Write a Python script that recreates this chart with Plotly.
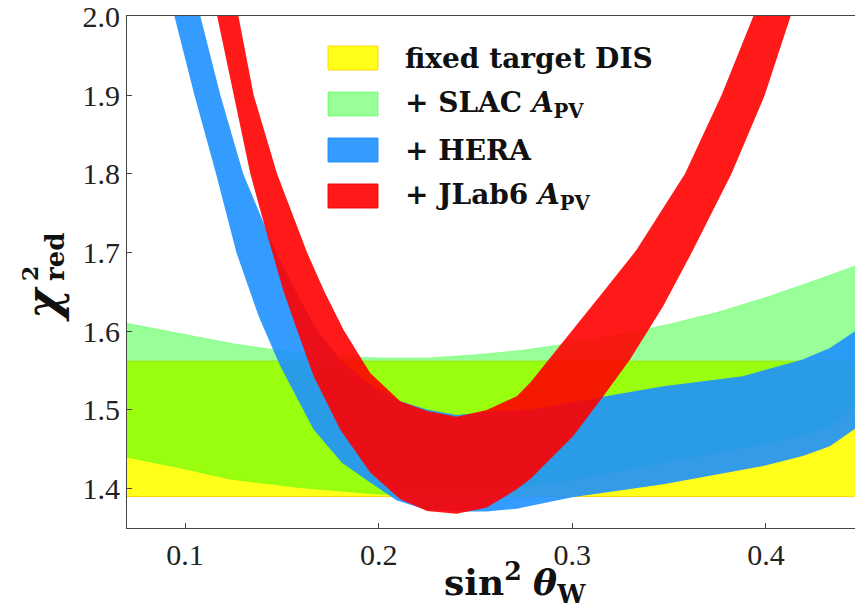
import plotly.graph_objects as go

# ---------------- data ----------------
# fixed target DIS (flat band)
yellow_x = [0.07, 0.446]
yellow_lo = [1.390, 1.390]
yellow_hi = [1.562, 1.562]

# + SLAC A_PV
green_lo_x = [0.07, 0.10, 0.1235, 0.16, 0.20, 0.24, 0.278, 0.30, 0.347, 0.3986, 0.42, 0.433, 0.446]
green_lo_y = [1.440, 1.425, 1.412, 1.401, 1.393, 1.392, 1.4034, 1.411, 1.433, 1.4563, 1.468, 1.4795, 1.505]
green_hi_x = [0.07, 0.10, 0.125, 0.15, 0.175, 0.20, 0.225, 0.25, 0.275, 0.30, 0.325, 0.35, 0.375, 0.40, 0.425, 0.446]
green_hi_y = [1.610, 1.596, 1.584, 1.575, 1.569, 1.566, 1.566, 1.570, 1.576, 1.585, 1.596, 1.609, 1.624, 1.643, 1.664, 1.683]

# + HERA
blue_lo_x = [0.090, 0.0945, 0.1048, 0.1160, 0.1265, 0.138, 0.1492, 0.1664, 0.181, 0.1956, 0.2094, 0.2249,
             0.2403, 0.2558, 0.2713, 0.278, 0.300, 0.347, 0.3986, 0.419, 0.433, 0.446]
blue_lo_y = [2.044, 2.000, 1.900, 1.800, 1.700, 1.619, 1.5555, 1.4753, 1.433, 1.4077, 1.3850, 1.3730,
             1.3710, 1.3710, 1.3745, 1.378, 1.389, 1.4056, 1.4288, 1.4415, 1.454, 1.476]
blue_hi_x = [0.100, 0.1079, 0.1182, 0.130, 0.147, 0.1595, 0.168, 0.1801, 0.1956, 0.2111, 0.2249, 0.2403,
             0.2558, 0.278, 0.300, 0.316, 0.347, 0.388, 0.419, 0.433, 0.446]
blue_hi_y = [2.077, 2.000, 1.900, 1.800, 1.700, 1.640, 1.602, 1.564, 1.5323, 1.511, 1.5005, 1.4935,
             1.4975, 1.5006, 1.510, 1.5175, 1.530, 1.5429, 1.564, 1.5788, 1.600]

# + JLab6 A_PV
red_lo_x = [0.110, 0.1165, 0.125, 0.1337, 0.1397, 0.1452, 0.1509, 0.1578, 0.1664, 0.1801, 0.1956, 0.2111,
            0.2249, 0.2403, 0.2558, 0.2713, 0.2782, 0.285, 0.3005, 0.316, 0.3298, 0.3469, 0.3624, 0.3822,
            0.3994, 0.4127, 0.420]
red_lo_y = [2.077, 2.000, 1.900, 1.800, 1.746, 1.700, 1.650, 1.602, 1.5429, 1.4753, 1.4204, 1.3866,
            1.3717, 1.3680, 1.3760, 1.3992, 1.4119, 1.4288, 1.4668, 1.5175, 1.564, 1.6316, 1.7034, 1.800,
            1.900, 2.000, 2.055]
red_hi_x = [0.120, 0.1276, 0.1354, 0.1475, 0.163, 0.172, 0.1818, 0.1956, 0.2111, 0.2249, 0.2403, 0.2558,
            0.2713, 0.2782, 0.3005, 0.316, 0.3332, 0.3582, 0.3771, 0.3934, 0.400]
red_hi_y = [2.097, 2.000, 1.900, 1.800, 1.700, 1.650, 1.602, 1.547, 1.511, 1.4985, 1.4914, 1.500,
            1.5175, 1.5345, 1.602, 1.650, 1.7034, 1.800, 1.900, 2.000, 2.040]

labels = ["fixed target DIS",
          "+ SLAC <i>A</i><sub>PV</sub>",
          "+ HERA",
          "+ JLab6 <i>A</i><sub>PV</sub>"]
x_ticks = [0.1, 0.2, 0.3, 0.4]
x_ticklabels = ["0.1", "0.2", "0.3", "0.4"]
y_ticks = [1.4, 1.5, 1.6, 1.7, 1.8, 1.9, 2.0]
y_ticklabels = ["1.4", "1.5", "1.6", "1.7", "1.8", "1.9", "2.0"]

# ---------------- styles ----------------
fills = ["rgba(255,255,0,0.9)", "rgba(0,255,0,0.4)", "rgba(30,144,255,0.9)", "rgba(255,0,0,0.9)"]
edges = ["rgba(255,210,0,0.9)", "rgba(0,255,0,0.25)", "rgba(30,144,255,0.0)", "rgba(255,0,0,0.0)"]
edge_w = [1, 1, 0, 0]

bands = [
    (yellow_x, yellow_lo, yellow_x, yellow_hi),
    (green_lo_x, green_lo_y, green_hi_x, green_hi_y),
    (blue_lo_x, blue_lo_y, blue_hi_x, blue_hi_y),
    (red_lo_x, red_lo_y, red_hi_x, red_hi_y),
]

fig = go.Figure()
for i, (lx, ly, hx, hy) in enumerate(bands):
    fig.add_trace(go.Scatter(x=lx, y=ly, mode="lines",
                             line=dict(width=edge_w[i], color=edges[i]),
                             showlegend=False, hoverinfo="skip"))
    fig.add_trace(go.Scatter(x=hx, y=hy, mode="lines", fill="tonexty",
                             fillcolor=fills[i],
                             line=dict(width=edge_w[i], color=edges[i]),
                             showlegend=False, hoverinfo="skip"))

# page body margin is removed by a post script, so no offset is needed
OFF = 0
W, H = 855, 611
# desired plot area in window pixels: left 127, right 855, top 16, bottom 528
PL, PR, PT, PB = 127, 855, 16, 528
L, T = PL - OFF, PT - OFF
R = W - (PR - OFF)
B = H - (PB - OFF)
pw, ph = PR - PL, PB - PT


def px2paper(px, py):
    # window pixel -> paper coordinates
    return (px - PL) / pw, (PB - py) / ph


# manual legend (patches + labels)
row_py = [58, 104, 150, 196]
for i, lab in enumerate(labels):
    x0, y0 = px2paper(328, row_py[i] + 12)
    x1, y1 = px2paper(378, row_py[i] - 12)
    fig.add_shape(type="rect", xref="paper", yref="paper", x0=x0, x1=x1, y0=y0, y1=y1,
                  fillcolor=fills[i], line=dict(color=edges[i] if i == 0 else fills[i], width=1))
    tx, ty = px2paper(403, row_py[i])
    fig.add_annotation(xref="paper", yref="paper", x=tx, y=ty, xanchor="left", yanchor="middle",
                       text="<b>" + lab + "</b>", showarrow=False,
                       font=dict(family="DejaVu Serif", size=28, color="#111"))

# axis titles
ax_x, ax_y = px2paper(515, 582)
fig.add_annotation(xref="paper", yref="paper", x=ax_x, y=ax_y, xanchor="center", yanchor="middle",
                   text="<b>sin</b><sup><b>2</b></sup> <b><i>θ</i></b><sub><b>W</b></sub>",
                   showarrow=False, font=dict(family="DejaVu Serif", size=36, color="#111"))
cx, cy = px2paper(43, 304)
fig.add_annotation(xref="paper", yref="paper", x=cx, y=cy, xanchor="center", yanchor="middle",
                   text="<b><i>χ</i></b>", textangle=-90, showarrow=False,
                   font=dict(family="DejaVu Serif", size=46, color="#111"))
sx, sy = px2paper(30, 274)
fig.add_annotation(xref="paper", yref="paper", x=sx, y=sy, xanchor="center", yanchor="middle",
                   text="<b>2</b>", textangle=-90, showarrow=False,
                   font=dict(family="DejaVu Serif", size=22, color="#111"))
rx, ry = px2paper(55, 257)
fig.add_annotation(xref="paper", yref="paper", x=rx, y=ry, xanchor="center", yanchor="middle",
                   text="<b>red</b>", textangle=-90, showarrow=False,
                   font=dict(family="DejaVu Serif", size=26, color="#111"))

fig.update_layout(
    width=W, height=H,
    margin=dict(l=L, r=R, t=T, b=B, pad=0, autoexpand=False),
    paper_bgcolor="white", plot_bgcolor="white",
    showlegend=False,
    hovermode=False,
    xaxis=dict(range=[0.07, 0.446], tickvals=x_ticks, ticktext=x_ticklabels,
               ticks="inside", ticklen=5, tickcolor="#444", showline=True, linecolor="#444",
               linewidth=1, mirror=True, showgrid=False, zeroline=False, automargin=False,
               ticklabeloverflow="allow",
               tickfont=dict(family="Liberation Serif", size=30, color="#222")),
    yaxis=dict(range=[1.35, 2.0005], tickvals=y_ticks, ticktext=y_ticklabels,
               ticks="inside", ticklen=5, tickcolor="#444", showline=True, linecolor="#444",
               linewidth=1, mirror=False, showgrid=False, zeroline=False, automargin=False,
               ticklabeloverflow="allow",
               tickfont=dict(family="Liberation Serif", size=30, color="#222")),
)

fig.write_html("out.html", config={"displayModeBar": False},
               post_script="document.body.style.margin='0px';")
